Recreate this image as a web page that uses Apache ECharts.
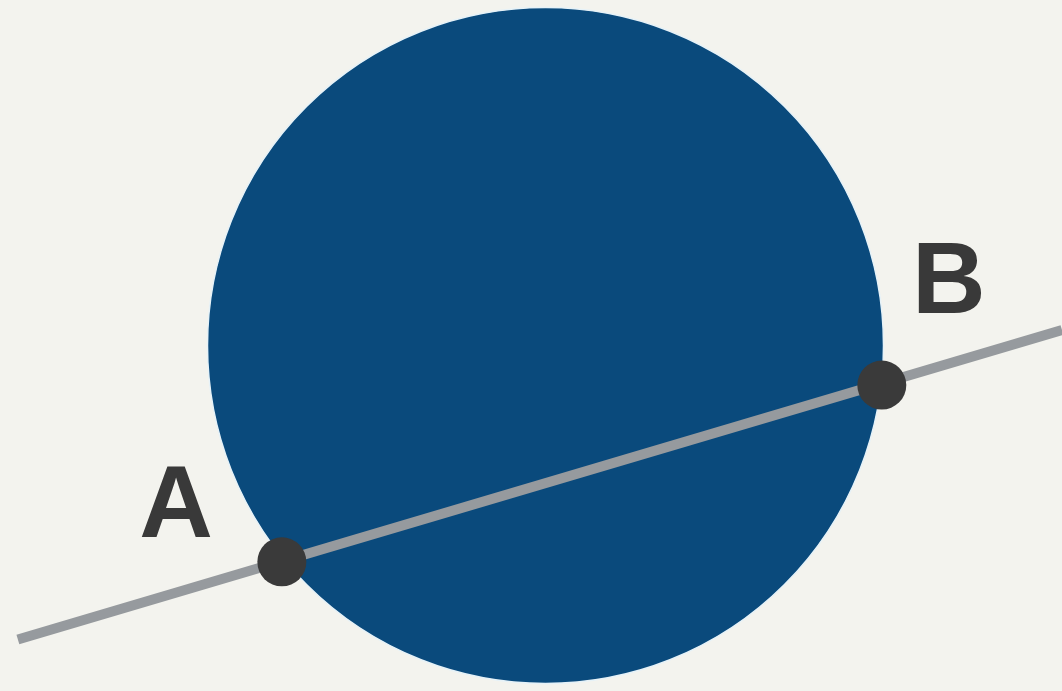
<!DOCTYPE html>
<html>
<head>
<meta charset="utf-8">
<script src="https://cdn.jsdelivr.net/npm/echarts@6/dist/echarts.min.js"></script>
<style>
html,body{margin:0;padding:0;background:#f3f3ee;}
#main{width:1062px;height:691px;}
</style>
</head>
<body>
<div id="main"></div>
<script>
// Data (units: circle radius = 1, centre at origin)
var circleData = [[0, 0, 1]];            // [cx, cy, r]
var secantLine = [[-1.561, -0.870], [1.528, 0.046]];
var pointNames = ['A', 'B'];
var pointValues = [[-0.780, -0.640], [0.995, -0.117]];
var labelValues = [[-1.093, -0.482], [1.193, 0.180]];

var chart = echarts.init(document.getElementById('main'));
chart.setOption({
  backgroundColor: '#f3f3ee',
  animation: false,
  grid: {left: 0, right: 0, top: 0, bottom: 0},
  xAxis: {type: 'value', min: -1.6139, max: 1.5281, show: false},
  yAxis: {type: 'value', min: -1.0222, max: 1.0222, show: false},
  series: [
    {
      type: 'custom',
      data: circleData,
      z: 1,
      renderItem: function (params, api) {
        var c = api.coord([api.value(0), api.value(1)]);
        var s = api.size([api.value(2), api.value(2)]);
        return {
          type: 'circle',
          shape: {cx: c[0], cy: c[1], r: s[0]},
          style: {fill: '#0a4a7c', stroke: '#e6f2f8', lineWidth: 1.5}
        };
      }
    },
    {
      type: 'line',
      data: secantLine,
      z: 2,
      symbol: 'none',
      lineStyle: {color: '#969a9e', width: 10, cap: 'butt'}
    },
    {
      type: 'scatter',
      data: pointValues,
      z: 3,
      symbolSize: 49,
      itemStyle: {color: '#3a3a3a', opacity: 1}
    },
    {
      type: 'scatter',
      z: 4,
      symbolSize: 0,
      itemStyle: {opacity: 1},
      data: labelValues.map(function (v, i) { return {value: v, name: pointNames[i]}; }),
      label: {
        show: true,
        position: 'inside',
        formatter: '{b}',
        fontFamily: 'Liberation Sans',
        fontWeight: 'bold',
        fontSize: 102,
        color: '#393939',
        opacity: 1
      }
    }
  ]
});
</script>
</body>
</html>
